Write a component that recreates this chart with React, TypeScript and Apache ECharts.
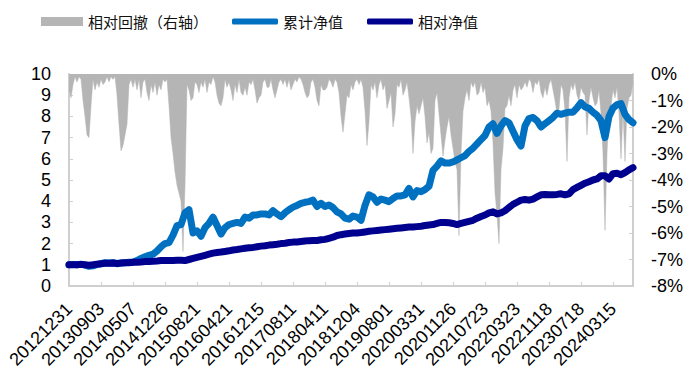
import React, { useEffect, useRef } from "react";
import * as echarts from "echarts";

// Main date axis (net value lines)
const dates: string[] = [
  "20121231", "20130131", "20130304", "20130329", "20130507", "20130604", "20130704", "20130802",
  "20130903", "20131009", "20131106", "20131204", "20140103", "20140207", "20140310", "20140409",
  "20140507", "20140604", "20140703", "20140731", "20140828", "20140929", "20141031", "20141128",
  "20141226", "20150127", "20150226", "20150327", "20150427", "20150526", "20150624", "20150723",
  "20150821", "20150921", "20151026", "20151123", "20151221", "20160120", "20160226", "20160324",
  "20160421", "20160520", "20160620", "20160719", "20160816", "20160913", "20161019", "20161116",
  "20161215", "20170116", "20170220", "20170320", "20170419", "20170518", "20170616", "20170714",
  "20170811", "20170908", "20171016", "20171113", "20171211", "20180110", "20180207", "20180314",
  "20180411", "20180510", "20180608", "20180709", "20180806", "20180903", "20181009", "20181106",
  "20181204", "20190103", "20190131", "20190311", "20190408", "20190508", "20190605", "20190704",
  "20190801", "20190829", "20190926", "20191031", "20191128", "20191226", "20200203", "20200302",
  "20200331", "20200430", "20200601", "20200630", "20200728", "20200825", "20200922", "20201029",
  "20201126", "20201224", "20210125", "20210222", "20210324", "20210423", "20210525", "20210623",
  "20210723", "20210820", "20210917", "20211025", "20211122", "20211220", "20220119", "20220223",
  "20220323", "20220425", "20220526", "20220624", "20220722", "20220819", "20220916", "20221021",
  "20221118", "20221216", "20230117", "20230221", "20230321", "20230420", "20230522", "20230619",
  "20230718", "20230815", "20230912", "20231020", "20231117", "20231215", "20240117", "20240222",
  "20240315", "20240412", "20240515", "20240613", "20240712", "20240809",
];

// Finer date axis for the drawdown area
const ddDates: string[] = [
  "20121231", "20130116", "20130131", "20130218", "20130304", "20130318", "20130329", "20130418", "20130507", "20130521", "20130604", "20130619", "20130704", "20130718", "20130802", "20130819",
  "20130903", "20130923", "20131009", "20131022", "20131106", "20131120", "20131204", "20131218", "20140103", "20140121", "20140207", "20140221", "20140310", "20140324", "20140409", "20140423",
  "20140507", "20140521", "20140604", "20140618", "20140703", "20140717", "20140731", "20140814", "20140828", "20140915", "20140929", "20141017", "20141031", "20141114", "20141128", "20141212",
  "20141226", "20150112", "20150127", "20150211", "20150226", "20150312", "20150327", "20150413", "20150427", "20150512", "20150526", "20150609", "20150624", "20150708", "20150723", "20150806",
  "20150821", "20150907", "20150921", "20151013", "20151026", "20151109", "20151123", "20151207", "20151221", "20160105", "20160120", "20160215", "20160226", "20160311", "20160324", "20160408",
  "20160421", "20160506", "20160520", "20160603", "20160620", "20160704", "20160719", "20160802", "20160816", "20160830", "20160913", "20160930", "20161019", "20161102", "20161116", "20161130",
  "20161215", "20161229", "20170116", "20170206", "20170220", "20170306", "20170320", "20170405", "20170419", "20170504", "20170518", "20170602", "20170616", "20170630", "20170714", "20170728",
  "20170811", "20170825", "20170908", "20170922", "20171016", "20171030", "20171113", "20171127", "20171211", "20171225", "20180110", "20180124", "20180207", "20180228", "20180314", "20180328",
  "20180411", "20180425", "20180510", "20180524", "20180608", "20180622", "20180709", "20180723", "20180806", "20180820", "20180903", "20180917", "20181009", "20181023", "20181106", "20181120",
  "20181204", "20181218", "20190103", "20190117", "20190131", "20190222", "20190311", "20190325", "20190408", "20190422", "20190508", "20190522", "20190605", "20190620", "20190704", "20190718",
  "20190801", "20190815", "20190829", "20190912", "20190926", "20191017", "20191031", "20191114", "20191128", "20191212", "20191226", "20200113", "20200203", "20200217", "20200302", "20200316",
  "20200331", "20200415", "20200430", "20200518", "20200601", "20200615", "20200630", "20200714", "20200728", "20200811", "20200825", "20200908", "20200922", "20201015", "20201029", "20201112",
  "20201126", "20201210", "20201224", "20210111", "20210125", "20210208", "20210222", "20210309", "20210324", "20210409", "20210423", "20210511", "20210525", "20210608", "20210623", "20210707",
  "20210723", "20210806", "20210820", "20210903", "20210917", "20211011", "20211025", "20211108", "20211122", "20211206", "20211220", "20220105", "20220119", "20220209", "20220223", "20220309",
  "20220323", "20220408", "20220425", "20220511", "20220526", "20220610", "20220624", "20220708", "20220722", "20220805", "20220819", "20220902", "20220916", "20221011", "20221021", "20221104",
  "20221118", "20221202", "20221216", "20221230", "20230117", "20230207", "20230221", "20230307", "20230321", "20230406", "20230420", "20230508", "20230522", "20230605", "20230619", "20230704",
  "20230718", "20230801", "20230815", "20230829", "20230912", "20231009", "20231020", "20231103", "20231117", "20231201", "20231215", "20231229", "20240117", "20240207", "20240222", "20240307",
  "20240315", "20240329", "20240412", "20240429", "20240515", "20240529", "20240613", "20240628", "20240712", "20240726", "20240809",
];

// 累计净值
const cumNav: number[] = [
  1.0, 1.02, 1.0, 1.03, 0.98, 0.93, 0.95, 1.02,
  1.05, 1.1, 1.08, 1.1, 1.05, 1.08, 1.1, 1.12,
  1.12, 1.2, 1.3, 1.38, 1.45, 1.5, 1.65, 1.85,
  2.0, 2.05, 2.4, 2.85, 2.9, 3.45, 3.6, 2.5,
  2.6, 2.35, 2.75, 2.95, 3.25, 2.85, 2.45, 2.75,
  2.9, 2.95, 3.0, 2.95, 3.25, 3.2, 3.35, 3.35,
  3.4, 3.4, 3.35, 3.55, 3.4, 3.27, 3.45, 3.6,
  3.72, 3.8, 3.9, 3.95, 3.98, 4.05, 3.75, 3.9,
  3.75, 3.82, 3.7, 3.5, 3.4, 3.2, 3.15, 3.3,
  3.25, 3.1, 3.8, 4.3, 4.2, 3.95, 4.1, 4.05,
  3.98, 4.13, 4.25, 4.25, 4.3, 4.6, 4.2, 4.5,
  4.45, 4.55, 4.7, 5.45, 5.65, 5.9, 5.8, 5.8,
  5.85, 5.95, 6.05, 6.15, 6.35, 6.5, 6.7, 6.9,
  7.1, 7.5, 7.65, 7.2, 7.55, 7.8, 7.7, 7.3,
  6.9, 6.6, 7.55, 7.9, 7.95, 7.8, 7.5, 7.65,
  7.8, 7.95, 8.15, 8.1, 8.15, 8.2, 8.2, 8.4,
  8.65, 8.45, 8.38, 8.2, 8.05, 7.8, 7.0, 8.0,
  8.4, 8.55, 8.6, 8.1, 7.85, 7.7,
];

// 相对净值
const relNav: number[] = [
  1.0, 1.0, 1.0, 1.02, 1.0, 0.98, 1.0, 1.03,
  1.05, 1.07, 1.07, 1.08, 1.06, 1.08, 1.1, 1.1,
  1.12, 1.12, 1.13, 1.15, 1.16, 1.17, 1.18, 1.2,
  1.2, 1.2, 1.2, 1.21, 1.21, 1.2, 1.25, 1.3,
  1.35, 1.4, 1.45, 1.5, 1.55, 1.58, 1.6, 1.63,
  1.66, 1.7, 1.72, 1.75, 1.78, 1.8, 1.82, 1.85,
  1.88, 1.9, 1.93, 1.95, 1.97, 2.0, 2.02, 2.05,
  2.07, 2.08, 2.1, 2.12, 2.14, 2.15, 2.15, 2.18,
  2.2, 2.25, 2.3, 2.38, 2.42, 2.45, 2.48, 2.5,
  2.5, 2.52, 2.55, 2.58, 2.6, 2.62, 2.64, 2.66,
  2.68, 2.7, 2.72, 2.74, 2.76, 2.78, 2.78, 2.8,
  2.82, 2.85, 2.88, 2.9, 2.95, 3.0, 3.0, 2.98,
  2.95, 2.9, 2.95, 3.0, 3.05, 3.1, 3.2, 3.28,
  3.35, 3.45, 3.5, 3.4, 3.45, 3.55, 3.7, 3.85,
  3.95, 4.05, 4.08, 4.05, 4.1, 4.2, 4.3, 4.32,
  4.3, 4.3, 4.32, 4.35, 4.3, 4.35, 4.55, 4.65,
  4.75, 4.85, 4.92, 5.0, 5.05, 5.2, 5.2, 5.05,
  5.3, 5.32, 5.25, 5.35, 5.48, 5.58,
];

// 相对回撤（%），on ddDates
const drawdown: number[] = [
  -0.6, -0.9, -0.4, -0.1, -0.3, -0.1, -0.2, -1.0, -1.6, -2.3, -2.4, -1.2, -0.2, -0.6, -0.3, -0.5,
  -0.2, -0.4, -0.3, -0.1, -0.3, -0.1, -0.2, -0.1, -0.8, -1.9, -2.9, -2.7, -2.3, -1.9, -0.4, -0.2,
  -0.5, -0.2, -0.6, -0.2, -0.9, -0.3, -0.2, -0.7, -1.0, -0.4, -0.7, -0.3, -0.8, -0.4, -0.6, -0.2,
  -0.3, -0.2, -1.2, -2.4, -3.0, -3.7, -4.2, -4.5, -4.8, -6.7, -4.2, -0.4, -0.6, -1.0, -0.9, -0.3,
  -0.4, -0.7, -0.3, -0.5, -0.2, -0.7, -0.3, -0.4, -0.1, -0.3, -0.8, -1.1, -1.2, -0.9, -0.2, -0.5,
  -0.3, -0.6, -1.0, -0.4, -0.7, -0.2, -0.7, -0.8, -0.5, -0.8, -0.3, -0.4, -0.2, -0.6, -1.1, -0.9,
  -0.8, -0.3, -0.2, -0.5, -0.5, -0.2, -0.6, -0.9, -0.6, -0.3, -0.2, -0.4, -0.2, -0.5, -0.2, -0.6,
  -0.4, -0.2, -0.3, -0.1, -0.2, -0.4, -0.7, -0.9, -0.8, -0.3, -0.2, -0.5, -1.0, -1.2, -0.4, -0.6,
  -0.6, -0.5, -0.2, -0.3, -0.5, -0.2, -0.3, -0.7, -1.6, -2.2, -1.5, -0.8, -0.9, -0.4, -0.6, -0.3,
  -0.2, -0.4, -0.2, -0.5, -1.4, -2.7, -1.8, -0.4, -0.6, -0.3, -0.9, -0.4, -0.2, -0.6, -0.4, -1.3,
  -1.0, -0.7, -2.0, -1.5, -0.4, -0.5, -0.2, -0.8, -0.6, -0.3, -0.9, -1.6, -3.0, -1.8, -1.2, -1.5,
  -1.2, -0.9, -1.6, -2.6, -2.2, -3.0, -2.8, -1.0, -0.7, -1.5, -2.3, -3.1, -2.5, -2.0, -1.6, -2.3,
  -2.8, -3.3, -3.6, -6.1, -3.0, -1.4, -0.9, -0.6, -1.0, -0.3, -0.5, -0.3, -0.8, -0.7, -0.3, -0.7,
  -0.5, -1.2, -1.0, -1.4, -2.6, -4.5, -5.3, -6.4, -3.6, -2.8, -1.3, -1.2, -0.8, -1.2, -0.6, -0.4,
  -0.9, -0.4, -0.6, -0.5, -0.3, -0.5, -0.2, -0.3, -0.7, -0.3, -0.4, -0.2, -0.7, -0.9, -0.5, -0.8,
  -0.4, -0.2, -0.6, -1.0, -1.5, -1.3, -0.4, -0.6, -1.4, -3.3, -0.9, -0.4, -0.6, -0.3, -0.8, -1.0,
  -0.5, -0.7, -0.8, -2.3, -1.0, -0.5, -0.9, -1.2, -1.1, -0.6, -1.5, -3.0, -5.9, -3.0, -1.4, -1.2,
  -0.6, -0.9, -0.5, -1.5, -3.2, -1.4, -3.3, -1.3, -0.9, -0.8, -0.3,
];

const leftTicks = { min: 0, max: 10, interval: 1 };
const rightTicks = { min: -8, max: 0, interval: 1 };

const AXIS_GREY = "#cfcfcf";
const GREY = "#b5b5b5";
const BLUE = "#0071c1";
const NAVY = "#00008f";
const NUM_FONT = "'Liberation Sans', Arial, Helvetica, sans-serif";
const CJK_FONT = "'Noto Sans CJK SC', 'Noto Sans', sans-serif";

export default function App() {
  const ref = useRef<HTMLDivElement>(null);
  useEffect(() => {
    if (!ref.current) return;
    const chart = echarts.init(ref.current, null, { renderer: "svg" });
    chart.setOption({
      animation: false,
      backgroundColor: "#ffffff",
      legend: [
        {
          data: [{ name: "相对回撤（右轴）", icon: "rect" }],
          left: 41,
          top: 14,
          padding: 0,
          itemWidth: 42,
          itemHeight: 9,
          textStyle: { fontSize: 15, color: "#111", fontFamily: CJK_FONT },
        },
        {
          data: [
            { name: "累计净值", icon: "roundRect" },
            { name: "相对净值", icon: "roundRect" },
          ],
          left: 232,
          top: 14,
          padding: 0,
          itemGap: 24,
          itemWidth: 46,
          itemHeight: 6,
          textStyle: { fontSize: 15, color: "#111", fontFamily: CJK_FONT },
        },
      ],
      grid: { left: 69, right: 66, top: 74, bottom: 98, containLabel: false, outerBoundsMode: "none" },
      xAxis: [
        {
          type: "category",
          data: dates,
          boundaryGap: false,
          axisLine: { show: true, lineStyle: { color: AXIS_GREY, width: 2 } },
          axisTick: { show: true, inside: true, length: 4, interval: 7, lineStyle: { color: AXIS_GREY, width: 1 } },
          axisLabel: {
            interval: 7,
            rotate: 45,
            margin: 20,
            fontSize: 18,
            color: "#000",
            fontFamily: NUM_FONT,
          },
          splitLine: { show: false },
        },
        {
          type: "category",
          data: ddDates,
          boundaryGap: false,
          show: false,
          position: "bottom",
        },
      ],
      yAxis: [
        {
          type: "value",
          min: leftTicks.min,
          max: leftTicks.max,
          interval: leftTicks.interval,
          position: "left",
          axisLine: { show: true, lineStyle: { color: AXIS_GREY, width: 2 } },
          axisTick: { show: true, inside: true, length: 4, lineStyle: { color: AXIS_GREY } },
          axisLabel: { fontSize: 18, color: "#000", margin: 18, fontFamily: NUM_FONT },
          splitLine: { show: false },
        },
        {
          type: "value",
          min: rightTicks.min,
          max: rightTicks.max,
          interval: rightTicks.interval,
          position: "right",
          axisLine: { show: true, lineStyle: { color: AXIS_GREY, width: 2 } },
          axisTick: { show: true, inside: true, length: 4, lineStyle: { color: AXIS_GREY } },
          axisLabel: {
            fontSize: 18,
            color: "#000",
            margin: 18,
            fontFamily: NUM_FONT,
            formatter: (v: number) => `${v === 0 ? 0 : v}%`,
          },
          splitLine: { show: false },
        },
      ],
      series: [
        {
          name: "相对回撤（右轴）",
          type: "line",
          xAxisIndex: 1,
          yAxisIndex: 1,
          data: drawdown,
          symbol: "none",
          itemStyle: { color: GREY },
          lineStyle: { width: 0.5, color: GREY },
          areaStyle: { color: GREY, opacity: 1 },
          z: 1,
        },
        {
          name: "累计净值",
          type: "line",
          data: cumNav,
          symbol: "none",
          itemStyle: { color: BLUE },
          lineStyle: { width: 7, color: BLUE, cap: "round", join: "round" },
          z: 2,
        },
        {
          name: "相对净值",
          type: "line",
          data: relNav,
          symbol: "none",
          itemStyle: { color: NAVY },
          lineStyle: { width: 7, color: NAVY, cap: "round", join: "round" },
          z: 3,
        },
      ],
    });
    return () => chart.dispose();
  }, []);
  return (
    <div
      ref={ref}
      style={{ position: "fixed", left: 0, top: 0, width: 699, height: 384, background: "#fff" }}
    />
  );
}
